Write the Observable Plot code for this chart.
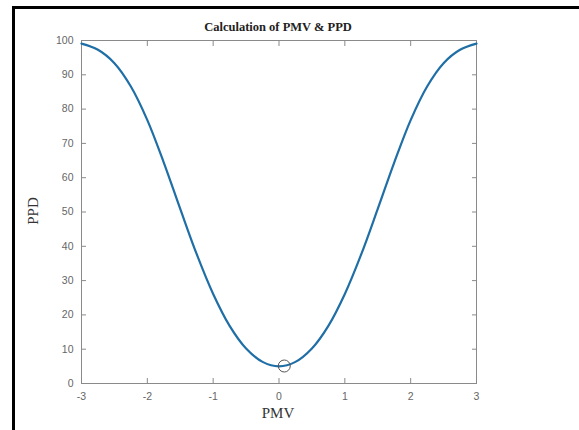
<!DOCTYPE html>
<html>
<head>
<meta charset="utf-8">
<script src="https://cdn.jsdelivr.net/npm/d3@7"></script>
<script src="https://cdn.jsdelivr.net/npm/@observablehq/plot@0.6"></script>
<style>
  html, body { margin: 0; padding: 0; background: #fff; }
  #wrap { position: relative; width: 579px; height: 430px; overflow: hidden; background: #fff; }
  #frame { position: absolute; left: 12px; top: 6px; width: 700px; height: 600px;
           border-top: 3px solid #000; border-left: 3px solid #000; box-sizing: border-box; }
  #chart { position: absolute; left: 0; top: 0; }
  .lbl { position: absolute; font-family: "Liberation Serif", "Times New Roman", serif; color: #333; white-space: nowrap; }
  #title { left: 278px; top: 20px; transform: translateX(-50%); font-weight: bold; font-size: 12.5px; color: #222; }
  #xlab { left: 278px; top: 405px; transform: translateX(-50%); font-size: 15px; }
  #ylab { left: 33px; top: 211px; transform: translate(-50%, -50%) rotate(-90deg); font-size: 15px; }
</style>
</head>
<body>
<div id="wrap">
  <div id="frame"></div>
  <div id="chart"></div>
  <div class="lbl" id="title">Calculation of PMV &amp; PPD</div>
  <div class="lbl" id="xlab">PMV</div>
  <div class="lbl" id="ylab">PPD</div>
</div>
<script>
// Values
const pmv = [-3, -2.75, -2.5, -2.25, -2, -1.75, -1.5, -1.25, -1, -0.75, -0.5, -0.25, 0,
             0.25, 0.5, 0.75, 1, 1.25, 1.5, 1.75, 2, 2.25, 2.5, 2.75, 3];
const ppd = [99.1, 97.3, 93.4, 86.6, 76.8, 64.4, 50.9, 37.7, 26.1, 16.8, 10.2, 6.3, 5.0,
             6.3, 10.2, 16.8, 26.1, 37.7, 50.9, 64.4, 76.8, 86.6, 93.4, 97.3, 99.1];
// Marked operating point
const pointPMV = [0.08];
const pointPPD = [5.1];
const xTicks = [-3, -2, -1, 0, 1, 2, 3];
const yTicks = [0, 10, 20, 30, 40, 50, 60, 70, 80, 90, 100];

const curve = pmv.map((x, i) => ({x, y: ppd[i]}));
const pts = pointPMV.map((x, i) => ({x, y: pointPPD[i]}));

const plot = Plot.plot({
  width: 579,
  height: 430,
  marginLeft: 81,
  marginRight: 103,
  marginTop: 40,
  marginBottom: 47,
  style: {fontFamily: "'Liberation Sans', Arial, sans-serif", fontSize: "10.5px", color: "#666", background: "transparent"},
  x: {domain: [-3, 3], ticks: xTicks, label: null},
  y: {domain: [0, 100], ticks: yTicks, label: null},
  marks: [
    Plot.frame({stroke: "#8a8a8a", strokeWidth: 1}),
    Plot.axisX({ticks: xTicks, anchor: "bottom", tickSize: -5, text: null, stroke: "#8a8a8a"}),
    Plot.axisX({ticks: xTicks, anchor: "top", tickSize: -5, text: null, stroke: "#8a8a8a"}),
    Plot.axisY({ticks: yTicks, anchor: "left", tickSize: -5, text: null, stroke: "#8a8a8a"}),
    Plot.axisY({ticks: yTicks, anchor: "right", tickSize: -5, text: null, stroke: "#8a8a8a"}),
    Plot.axisX({ticks: xTicks, anchor: "bottom", tickSize: 0, tickPadding: 9, tickFormat: d => String(d), fill: "#666"}),
    Plot.axisY({ticks: yTicks, anchor: "left", tickSize: 0, tickPadding: 8, fill: "#666"}),
    Plot.line(curve, {x: "x", y: "y", stroke: "#1f6ea6", strokeWidth: 2.2, curve: "catmull-rom"}),
    Plot.dot(pts, {x: "x", y: "y", r: 6, stroke: "#555", strokeWidth: 1, fill: "none"})
  ]
});
document.getElementById("chart").appendChild(plot);
</script>
</body>
</html>
